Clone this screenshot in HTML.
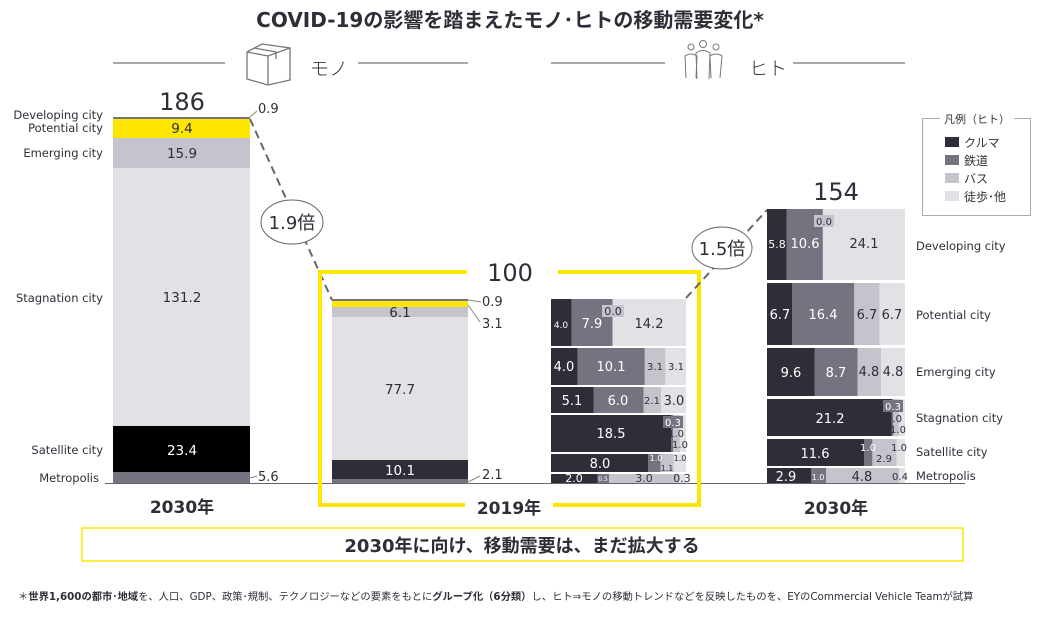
<!DOCTYPE html>
<html><head><meta charset="utf-8"><style>
html,body{margin:0;padding:0;background:#fff;}
svg{display:block;font-family:"DejaVu Sans","Noto Sans CJK JP",sans-serif;}
</style></head><body>
<svg width="1037" height="618" viewBox="0 0 1037 618" xmlns="http://www.w3.org/2000/svg">
<text x="510" y="27" text-anchor="middle" font-size="20" font-weight="bold" fill="#2e2e38">COVID-19の影響を踏まえたモノ･ヒトの移動需要変化*</text>
<g stroke="#555" stroke-width="1">
<line x1="113" y1="63" x2="225" y2="63"/><line x1="358" y1="63" x2="468" y2="63"/>
<line x1="551" y1="63" x2="665" y2="63"/><line x1="793" y1="63" x2="905" y2="63"/>
</g>
<g fill="none" stroke="#777" stroke-width="1.3">
<polygon points="247,52 262,44 290,48 290,80 268,85 247,79"/>
<polyline points="247,52 268,56 290,48"/><line x1="268" y1="56" x2="268" y2="85"/>
<polyline points="254,48 276,52 276,59"/>
</g>
<text x="310" y="75" font-size="19" fill="#333" font-family="Noto Sans CJK JP,sans-serif" font-weight="300">モノ</text>
<g fill="none" stroke="#777" stroke-width="1">
<circle cx="691" cy="47" r="3"/><circle cx="703" cy="44" r="3.5"/><circle cx="716" cy="47" r="3"/>
<path d="M686 78 L685 56 Q691 52 697 56 L696 78"/><path d="M697 79 L696 53 Q703 48 710 53 L709 79"/><path d="M711 78 L710 56 Q716 52 722 56 L720 78"/>
</g>
<text x="749" y="75" font-size="19" fill="#333" font-family="Noto Sans CJK JP,sans-serif" font-weight="300">ヒト</text>
<line x1="105" y1="483.5" x2="965" y2="483.5" stroke="#666" stroke-width="1"/>
<rect x="113" y="117" width="137" height="2" fill="#747480"/>
<rect x="113" y="119" width="137" height="19" fill="#ffe600"/>
<rect x="113" y="138" width="137" height="30" fill="#c4c4cd"/>
<rect x="113" y="168" width="137" height="258" fill="#e1e1e6"/>
<rect x="113" y="426" width="137" height="46" fill="#000"/>
<rect x="113" y="472" width="137" height="11" fill="#747480"/>
<g font-size="13.5" fill="#2e2e38" text-anchor="middle">
<text x="182" y="133">9.4</text><text x="182" y="158">15.9</text><text x="182" y="302">131.2</text>
<text x="182" y="455" fill="#fff">23.4</text>
</g>
<text x="182" y="110" font-size="24" text-anchor="middle" fill="#2e2e38">186</text>
<g font-size="11.5" fill="#2e2e38" text-anchor="end">
<text x="103" y="119">Developing city</text><text x="103" y="132">Potential city</text>
<text x="103" y="157">Emerging city</text><text x="103" y="302">Stagnation city</text>
<text x="103" y="454">Satellite city</text><text x="99" y="482">Metropolis</text>
</g>
<line x1="250" y1="117" x2="257" y2="111" stroke="#888"/>
<text x="258" y="113" font-size="13" fill="#2e2e38">0.9</text>
<line x1="250" y1="478" x2="257" y2="476" stroke="#888"/>
<text x="258" y="481" font-size="13" fill="#2e2e38">5.6</text>
<text x="182" y="513" font-size="17" font-weight="bold" text-anchor="middle" fill="#2e2e38">2030年</text>
<line x1="250" y1="119" x2="332" y2="300" stroke="#666" stroke-width="2" stroke-dasharray="8,5"/>
<ellipse cx="292" cy="222" rx="31" ry="22" fill="#fff" stroke="#666"/>
<text x="292" y="229" font-size="18" text-anchor="middle" fill="#2e2e38">1.9倍</text>
<rect x="332" y="299" width="136" height="2" fill="#747480"/>
<rect x="332" y="301" width="136" height="6" fill="#ffe600"/>
<rect x="332" y="307" width="136" height="10" fill="#c4c4cd"/>
<rect x="332" y="317" width="136" height="143" fill="#e1e1e6"/>
<rect x="332" y="460" width="136" height="19" fill="#2e2e38"/>
<rect x="332" y="479" width="136" height="4" fill="#747480"/>
<g font-size="13.5" fill="#2e2e38" text-anchor="middle">
<text x="400" y="317">6.1</text><text x="400" y="394">77.7</text><text x="400" y="475" fill="#fff">10.1</text>
</g>
<g stroke="#888"><line x1="468" y1="300" x2="481" y2="302"/><line x1="468" y1="305" x2="480" y2="322"/><line x1="468" y1="482" x2="480" y2="476"/></g>
<g font-size="13" fill="#2e2e38"><text x="482" y="306">0.9</text><text x="482" y="328">3.1</text><text x="482" y="479">2.1</text></g>
<g stroke="#ffe600" stroke-width="4" fill="none">
<polyline points="467,272 320,272 320,505 465,505"/>
<polyline points="558,272 699,272 699,505 553,505"/>
</g>
<text x="510" y="281" font-size="24" text-anchor="middle" fill="#2e2e38">100</text>
<text x="509" y="514" font-size="17" font-weight="bold" text-anchor="middle" fill="#2e2e38">2019年</text>
<g>
<rect x="551" y="299" width="20.7" height="47" fill="#2e2e38"/><rect x="571.7" y="299" width="40.9" height="47" fill="#747480"/><rect x="612.6" y="299" width="73.4" height="47" fill="#e1e1e6"/>
<rect x="551" y="348" width="26.6" height="37" fill="#2e2e38"/><rect x="577.6" y="348" width="67.2" height="37" fill="#747480"/><rect x="644.8" y="348" width="20.6" height="37" fill="#c4c4cd"/><rect x="665.4" y="348" width="20.6" height="37" fill="#e1e1e6"/>
<rect x="551" y="387" width="42.5" height="26" fill="#2e2e38"/><rect x="593.5" y="387" width="50" height="26" fill="#747480"/><rect x="643.5" y="387" width="17.5" height="26" fill="#c4c4cd"/><rect x="661" y="387" width="25" height="26" fill="#e1e1e6"/>
<rect x="551" y="415" width="120" height="37" fill="#2e2e38"/><rect x="671" y="415" width="2" height="37" fill="#747480"/><rect x="673" y="415" width="6.5" height="37" fill="#c4c4cd"/><rect x="679.5" y="415" width="6.5" height="37" fill="#e1e1e6"/>
<rect x="551" y="454" width="97.3" height="18" fill="#2e2e38"/><rect x="648.3" y="454" width="12.2" height="18" fill="#747480"/><rect x="660.5" y="454" width="13.3" height="18" fill="#c4c4cd"/><rect x="673.8" y="454" width="12.2" height="18" fill="#e1e1e6"/>
<rect x="551" y="474" width="46.6" height="9" fill="#2e2e38"/><rect x="597.6" y="474" width="11.6" height="9" fill="#747480"/><rect x="609.2" y="474" width="69.8" height="9" fill="#c4c4cd"/><rect x="679" y="474" width="7" height="9" fill="#e1e1e6"/>
<rect x="602" y="305" width="22" height="12" fill="#c4c4cd"/>
<rect x="663" y="416" width="20" height="12" fill="#747480"/>
</g>
<g font-size="13" text-anchor="middle" fill="#2e2e38">
<text x="561" y="328" font-size="9" fill="#fff">4.0</text><text x="592" y="328" fill="#fff">7.9</text><text x="613" y="315" font-size="11">0.0</text><text x="649" y="328">14.2</text>
<text x="564" y="371" fill="#fff">4.0</text><text x="611" y="371" fill="#fff">10.1</text><text x="655" y="370" font-size="10">3.1</text><text x="676" y="370" font-size="10">3.1</text>
<text x="572" y="405" fill="#fff">5.1</text><text x="618" y="405" fill="#fff">6.0</text><text x="652" y="404" font-size="10">2.1</text><text x="674" y="405">3.0</text>
<text x="611" y="438" fill="#fff">18.5</text><text x="673" y="426" font-size="10" fill="#fff">0.3</text><text x="676" y="437" font-size="10">1.0</text><text x="680" y="448" font-size="10">1.0</text>
<text x="600" y="468" fill="#fff">8.0</text><text x="656" y="461" font-size="8" fill="#fff">1.0</text><text x="667" y="471" font-size="8">1.1</text><text x="680" y="461" font-size="8">1.0</text>
<text x="574" y="482" font-size="11" fill="#fff">2.0</text><text x="603" y="481" font-size="6" fill="#fff">0.5</text><text x="644" y="482" font-size="11">3.0</text><text x="682" y="482" font-size="11">0.3</text>
</g>
<line x1="686" y1="298" x2="767" y2="210" stroke="#666" stroke-width="2" stroke-dasharray="8,5"/>
<ellipse cx="722" cy="248" rx="30" ry="21" fill="#fff" stroke="#666"/>
<text x="722" y="255" font-size="18" text-anchor="middle" fill="#2e2e38">1.5倍</text>
<text x="836" y="200" font-size="24" text-anchor="middle" fill="#2e2e38">154</text>
<g>
<rect x="767" y="209" width="19.8" height="71" fill="#2e2e38"/><rect x="786.8" y="209" width="36.1" height="71" fill="#747480"/><rect x="822.9" y="209" width="82.1" height="71" fill="#e1e1e6"/>
<rect x="767" y="283" width="25.3" height="62" fill="#2e2e38"/><rect x="792.3" y="283" width="62" height="62" fill="#747480"/><rect x="854.3" y="283" width="25.3" height="62" fill="#c4c4cd"/><rect x="879.6" y="283" width="25.4" height="62" fill="#e1e1e6"/>
<rect x="767" y="348" width="47.5" height="48" fill="#2e2e38"/><rect x="814.5" y="348" width="43" height="48" fill="#747480"/><rect x="857.5" y="348" width="23.7" height="48" fill="#c4c4cd"/><rect x="881.2" y="348" width="23.8" height="48" fill="#e1e1e6"/>
<rect x="767" y="399" width="124.5" height="37" fill="#2e2e38"/><rect x="891.5" y="399" width="1.8" height="37" fill="#747480"/><rect x="893.3" y="399" width="5.8" height="37" fill="#c4c4cd"/><rect x="899.1" y="399" width="5.9" height="37" fill="#e1e1e6"/>
<rect x="767" y="439" width="97" height="27" fill="#2e2e38"/><rect x="864" y="439" width="8.4" height="27" fill="#747480"/><rect x="872.4" y="439" width="24.3" height="27" fill="#c4c4cd"/><rect x="896.7" y="439" width="8.3" height="27" fill="#e1e1e6"/>
<rect x="767" y="468" width="44" height="15" fill="#2e2e38"/><rect x="811" y="468" width="15.2" height="15" fill="#747480"/><rect x="826.2" y="468" width="72.8" height="15" fill="#c4c4cd"/><rect x="899" y="468" width="6" height="15" fill="#e1e1e6"/>
<rect x="814" y="215" width="20" height="12" fill="#c4c4cd"/>
<rect x="883" y="400" width="20" height="12" fill="#747480"/>
</g>
<g font-size="13" text-anchor="middle" fill="#2e2e38">
<text x="777" y="248" font-size="11" fill="#fff">5.8</text><text x="805" y="248" fill="#fff">10.6</text><text x="824" y="225" font-size="10">0.0</text><text x="864" y="248">24.1</text>
<text x="780" y="319" fill="#fff">6.7</text><text x="823" y="319" fill="#fff">16.4</text><text x="867" y="319">6.7</text><text x="892" y="319">6.7</text>
<text x="791" y="377" fill="#fff">9.6</text><text x="836" y="377" fill="#fff">8.7</text><text x="869" y="376">4.8</text><text x="893" y="376">4.8</text>
<text x="830" y="423" fill="#fff">21.2</text><text x="893" y="410" font-size="10" fill="#fff">0.3</text><text x="894" y="422" font-size="10">1.0</text><text x="898" y="433" font-size="10">1.0</text>
<text x="815" y="458" fill="#fff">11.6</text><text x="868" y="451" font-size="10" fill="#fff">1.0</text><text x="884" y="462" font-size="10">2.9</text><text x="899" y="451" font-size="10">1.0</text>
<text x="786" y="481" fill="#fff">2.9</text><text x="818" y="480" font-size="8" fill="#fff">1.0</text><text x="862" y="481">4.8</text><text x="900" y="480" font-size="10">0.4</text>
</g>
<g font-size="11.5" fill="#2e2e38">
<text x="916" y="250">Developing city</text><text x="916" y="319">Potential city</text><text x="916" y="376">Emerging city</text>
<text x="916" y="422">Stagnation city</text><text x="916" y="456">Satellite city</text><text x="916" y="480">Metropolis</text>
</g>
<text x="836" y="514" font-size="17" font-weight="bold" text-anchor="middle" fill="#2e2e38">2030年</text>
<rect x="922.5" y="118.5" width="108" height="97" fill="#fff" stroke="#aaa"/>
<rect x="940" y="112" width="74" height="14" fill="#fff"/>
<text x="977" y="123" font-size="11" text-anchor="middle" fill="#333">凡例（ヒト）</text>
<rect x="945" y="137" width="14" height="10" fill="#2e2e38"/><text x="964" y="147" font-size="12" fill="#333">クルマ</text>
<rect x="945" y="155" width="14" height="10" fill="#747480"/><text x="964" y="165" font-size="12" fill="#333">鉄道</text>
<rect x="945" y="173" width="14" height="10" fill="#c4c4cd"/><text x="964" y="183" font-size="12" fill="#333">バス</text>
<rect x="945" y="191" width="14" height="10" fill="#e1e1e6"/><text x="964" y="201" font-size="12" fill="#333">徒歩･他</text>
<rect x="82" y="528" width="881" height="33" fill="#fff" stroke="#ffe600" stroke-width="1.5"/>
<text x="522" y="552" font-size="18" font-weight="bold" text-anchor="middle" fill="#2e2e38">2030年に向け、移動需要は、まだ拡大する</text>
<text x="18" y="600" font-size="10.3" fill="#2e2e38">＊<tspan font-weight="bold">世界1,600の都市･地域</tspan>を、人口、GDP、政策･規制、テクノロジーなどの要素をもとに<tspan font-weight="bold">グループ化（6分類）</tspan>し、ヒト⇒モノの移動トレンドなどを反映したものを、EYのCommercial Vehicle Teamが試算</text>
</svg>
</body></html>
